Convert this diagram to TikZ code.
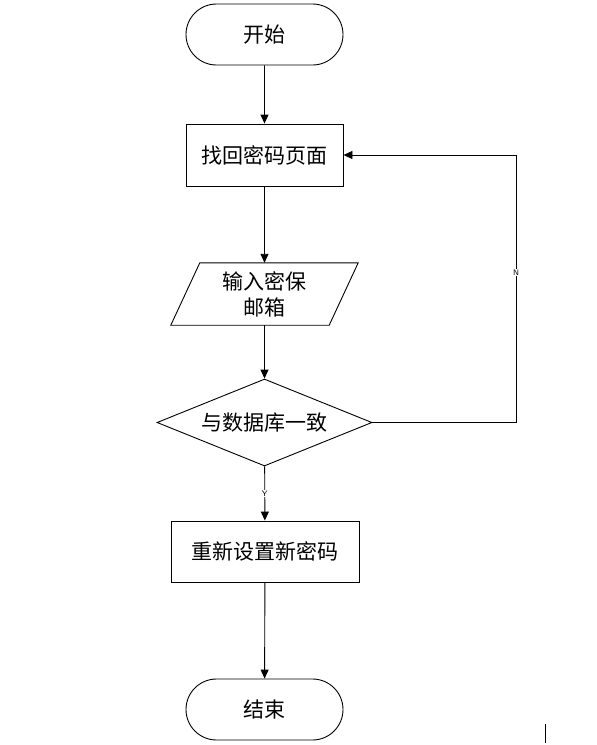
\documentclass[tikz,border=0pt]{standalone}
\usepackage{fontspec}
\newfontfamily\cjk{Noto Sans CJK SC}
\usetikzlibrary{shapes.geometric,shapes.misc,arrows.meta,positioning}
\begin{document}
\begin{tikzpicture}[x=1pt,y=-1pt,
  base/.style={draw=black,line width=0.9pt,fill=white,font=\cjk\fontsize{21}{26}\selectfont,align=center,inner sep=0pt},
  term/.style={base,rounded rectangle,minimum width=157pt,minimum height=61pt},
  proc/.style={base,rectangle},
  io/.style={font=\cjk\fontsize{21}{26}\selectfont,align=center,inner sep=0pt,minimum width=187pt,minimum height=62pt},
  dec/.style={base,diamond,aspect=2.47,minimum width=215pt,minimum height=87pt},
  lbl/.style={font=\sffamily\fontsize{8}{9}\selectfont,fill=white,inner sep=1pt},
  arr/.style={line width=0.9pt,-{Triangle[length=9pt,width=8pt]}},
  ln/.style={line width=0.9pt}]
\useasboundingbox (0,0) rectangle (597,745);
\node[term] (start) at (264.5,34.5) {开始};
\node[proc,minimum width=157pt,minimum height=62pt] (find) at (264.5,155) {找回密码页面};
\node[io] (input) at (264.5,294) {};
\draw[ln] ([xshift=29pt]input.north west) -- (input.north east) -- ([xshift=-29pt]input.south east) -- (input.south west) -- cycle;
\node[io] at (input) {输入密保\\邮箱};
\node[dec] (chk) at (264.5,422.5) {与数据库一致};
\node[proc,minimum width=188pt,minimum height=61pt] (reset) at (265,551.5) {重新设置新密码};
\node[term] (end) at (264.5,709.5) {结束};
\coordinate (c1) at (516,422.5);
\coordinate (c2) at (516,155);
\draw[arr] (start) -- (find);
\draw[arr] (find) -- (find|-input.north);
\draw[arr] (input.south-|chk) -- (chk);
\draw[arr] (chk) -- node[lbl,pos=0.5]{Y} (reset);
\draw[arr] (reset) -- (end);
\draw[arr] (chk.east) -- (c1) -- node[lbl,pos=0.56]{N} (c2) -- (find.east);
\coordinate (m1) at (545.5,724);
\coordinate (m2) at (545.5,743);
\draw[line width=1pt] (m1) -- (m2);
\end{tikzpicture}
\end{document}
